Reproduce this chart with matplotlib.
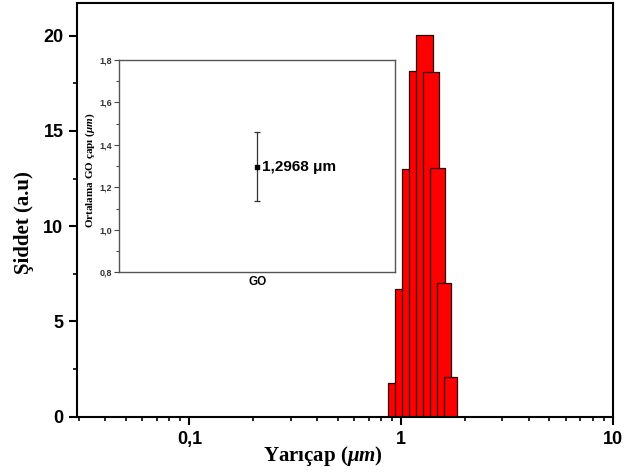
import numpy as np
import matplotlib
matplotlib.use("Agg")
import matplotlib.pyplot as plt
from matplotlib.ticker import LogLocator, FixedLocator, MultipleLocator, FuncFormatter, NullFormatter

# size distribution (left edge of each bin, um) and intensity
radius_left = [0.862, 0.934, 1.008, 1.091, 1.177, 1.270, 1.370, 1.479, 1.596]
intensity = [1.76, 6.69, 12.98, 18.13, 20.05, 18.08, 13.07, 7.0, 2.08]
bin_width = 0.234

# inset: mean GO radius and its spread
go_mean = 1.2968
go_err = 0.163

plt.rcParams['mathtext.fontset'] = 'custom'
plt.rcParams['mathtext.rm'] = 'Liberation Serif:bold'
plt.rcParams['mathtext.it'] = 'Liberation Serif:italic:bold'
plt.rcParams['mathtext.bf'] = 'Liberation Serif:bold'

def comma(v, pos):
	return ('%g' % v).replace('.', ',')

fig = plt.figure(figsize=(6.24, 4.72), dpi=100)
ax = fig.add_axes([77.3/624, 1-416.7/472, 536/624, 413.4/472])

ax.bar(radius_left, intensity, width=bin_width, align='edge',
	color='#ff0000', edgecolor='#2a0000', linewidth=0.9)

ax.set_xscale('log')
ax.set_xlim(0.0296, 10)
ax.set_ylim(0, 21.7)
ax.xaxis.set_major_locator(FixedLocator([0.1, 1, 10]))
ax.xaxis.set_major_formatter(FuncFormatter(comma))
ax.xaxis.set_minor_locator(LogLocator(base=10, subs=np.arange(2, 10), numticks=20))
ax.xaxis.set_minor_formatter(NullFormatter())
ax.yaxis.set_major_locator(MultipleLocator(5))
ax.yaxis.set_minor_locator(MultipleLocator(2.5))

for s in ax.spines.values():
	s.set_linewidth(1.5)
ax.tick_params(which='major', direction='out', length=6, width=1.5, pad=4)
ax.tick_params(which='minor', direction='out', length=3, width=1.2)
for lab in ax.get_xticklabels() + ax.get_yticklabels():
	lab.set_family('Liberation Sans')
	lab.set_fontweight('bold')
	lab.set_fontsize(13)

ax.set_xlabel(r'Yarıçap ($\mu m$)', family='Liberation Serif', fontweight='bold', fontsize=15, va='center')
ax.xaxis.set_label_coords(0.4584, -0.095)
ax.set_ylabel('Şiddet (a.u)', family='Liberation Serif', fontweight='bold', fontsize=15, va='center')
ax.yaxis.set_label_coords(-0.0994, 0.4686)

# inset with mean radius
axi = fig.add_axes([119.3/624, 1-272.3/472, 276/624, 212.3/472])
axi.errorbar([0], [go_mean], yerr=[go_err], fmt='s', color='black', ms=3,
	ecolor='#333333', elinewidth=0.9, capsize=2.5, capthick=0.9)
axi.set_xlim(-1, 1)
axi.set_ylim(0.8, 1.8)
axi.set_xticks([0], ['GO'])
axi.tick_params(axis='x', length=0, pad=3, labelsize=8.5)
for lab in axi.get_xticklabels():
	lab.set_family('Liberation Sans')
	lab.set_fontweight('bold')
axi.yaxis.set_major_locator(MultipleLocator(0.2))
axi.yaxis.set_minor_locator(MultipleLocator(0.1))
axi.yaxis.set_major_formatter(FuncFormatter(lambda v, p: ('%.1f' % v).replace('.', ',')))
axi.tick_params(axis='y', which='major', direction='out', length=3.5, width=0.8, pad=1.5,
	labelsize=6.5, color='#444444')
axi.tick_params(axis='y', which='minor', direction='out', length=2, width=0.8, color='#444444')
for lab in axi.get_yticklabels():
	lab.set_family('Liberation Sans')
	lab.set_fontweight('bold')
	lab.set_color('#333333')
for s in axi.spines.values():
	s.set_linewidth(1.0)
	s.set_color('#555555')
axi.set_ylabel(r'Ortalama GO çapı ($\mu m$)', family='Liberation Serif', fontweight='bold',
	fontsize=8, va='center')
axi.yaxis.set_label_coords(-0.106, 0.482)
axi.annotate(('%.4f' % go_mean).replace('.', ',') + ' μm', xy=(0, go_mean), xytext=(3.5, 0),
	textcoords='offset points', va='center', ha='left', fontsize=11, fontweight='bold',
	family='Liberation Sans')

fig.savefig('out.png', dpi=100)
